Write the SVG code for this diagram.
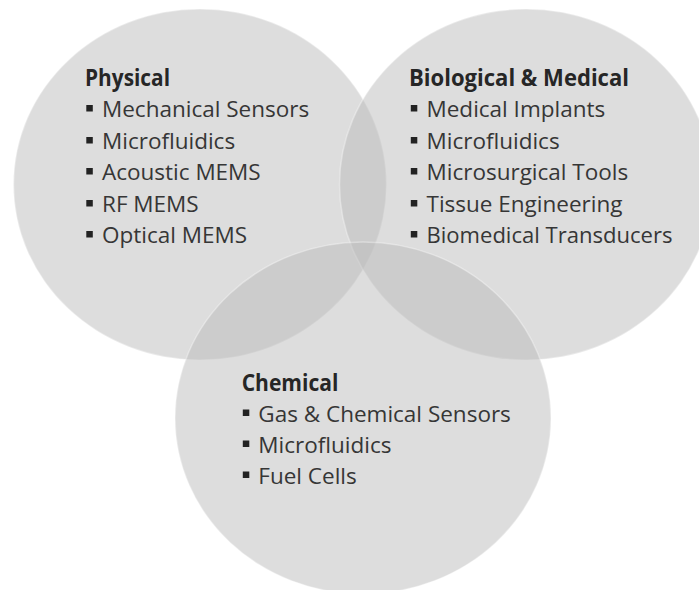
<svg xmlns="http://www.w3.org/2000/svg" width="699" height="590" viewBox="0 0 699 590">
  <style>
    .set { fill: #bcbcbc; fill-opacity: 0.5; stroke: #ffffff; stroke-opacity: 0.35; stroke-width: 1.5; }
    .title { font-family: "Open Sans", "Noto Sans", sans-serif; font-size: 22.5px; font-weight: bold; fill: #262626; }
    .item { font-family: "Open Sans", "Noto Sans", sans-serif; font-size: 22.5px; fill: #363636; }
    .bullet { fill: #222222; }
  </style>
  <rect width="699" height="590" fill="#ffffff"/>

  <!-- Physical -->
  <g id="physical">
    <ellipse class="set" cx="200" cy="184.5" rx="186.5" ry="175.5"/>
    <text class="title" x="85" y="86" textLength="85" lengthAdjust="spacingAndGlyphs">Physical</text>
    <rect class="bullet" x="86.3" y="105" width="6.5" height="6.5"/>
    <text class="item" x="102" y="117">Mechanical Sensors</text>
    <rect class="bullet" x="86.3" y="137" width="6.5" height="6.5"/>
    <text class="item" x="102" y="149">Microfluidics</text>
    <rect class="bullet" x="86.3" y="168" width="6.5" height="6.5"/>
    <text class="item" x="102" y="180">Acoustic MEMS</text>
    <rect class="bullet" x="86.3" y="200" width="6.5" height="6.5"/>
    <text class="item" x="102" y="212">RF MEMS</text>
    <rect class="bullet" x="86.3" y="231" width="6.5" height="6.5"/>
    <text class="item" x="102" y="243">Optical MEMS</text>
  </g>

  <!-- Biological & Medical -->
  <g id="biological-medical">
    <ellipse class="set" cx="526" cy="184.5" rx="186.5" ry="175.5"/>
    <text class="title" x="409" y="86" textLength="220" lengthAdjust="spacingAndGlyphs">Biological &amp; Medical</text>
    <rect class="bullet" x="410.8" y="105" width="6.5" height="6.5"/>
    <text class="item" x="426.5" y="117">Medical Implants</text>
    <rect class="bullet" x="410.8" y="137" width="6.5" height="6.5"/>
    <text class="item" x="426.5" y="149">Microfluidics</text>
    <rect class="bullet" x="410.8" y="168" width="6.5" height="6.5"/>
    <text class="item" x="426.5" y="180">Microsurgical Tools</text>
    <rect class="bullet" x="410.8" y="200" width="6.5" height="6.5"/>
    <text class="item" x="426.5" y="212">Tissue Engineering</text>
    <rect class="bullet" x="410.8" y="231" width="6.5" height="6.5"/>
    <text class="item" x="426.5" y="243" textLength="246" lengthAdjust="spacingAndGlyphs">Biomedical Transducers</text>
  </g>

  <!-- Chemical -->
  <g id="chemical">
    <ellipse class="set" cx="363" cy="418" rx="188" ry="176"/>
    <text class="title" x="241.7" y="391" textLength="96.7" lengthAdjust="spacingAndGlyphs">Chemical</text>
    <rect class="bullet" x="242.8" y="409.5" width="6.5" height="6.5"/>
    <text class="item" x="258.3" y="422">Gas &amp; Chemical Sensors</text>
    <rect class="bullet" x="242.8" y="440.5" width="6.5" height="6.5"/>
    <text class="item" x="258.3" y="453">Microfluidics</text>
    <rect class="bullet" x="242.8" y="471.5" width="6.5" height="6.5"/>
    <text class="item" x="258.3" y="484">Fuel Cells</text>
  </g>

  <g id="connectors"/>
</svg>
